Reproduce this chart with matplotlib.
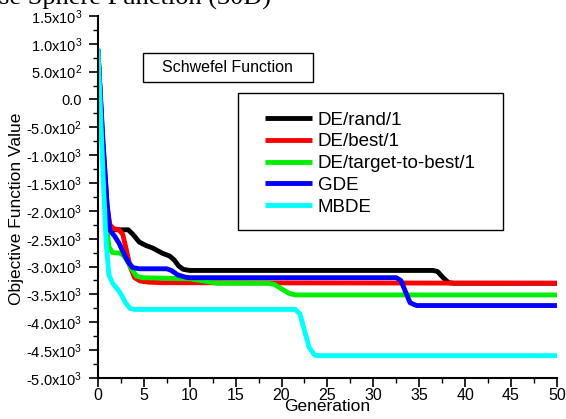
import matplotlib
matplotlib.use("Agg")
import matplotlib.pyplot as plt
from matplotlib.patches import Rectangle
from matplotlib.ticker import MultipleLocator

plt.rcParams['font.family'] = ['Liberation Sans', 'DejaVu Sans']
plt.rcParams['mathtext.fontset'] = 'custom'
plt.rcParams['mathtext.rm'] = 'Liberation Sans'
plt.rcParams['mathtext.it'] = 'Liberation Sans'

# ---------------- data ----------------
names = ["DE/rand/1", "DE/best/1", "DE/target-to-best/1", "GDE", "MBDE"]
colors = ["#000000", "#ff0000", "#00ee00", "#0000ff", "#00ffff"]

gen_rand = [0, 0.5, 1, 1.3, 1.6, 3.3, 3.8, 4.5, 5.2, 6, 7, 7.8, 8.3, 8.8, 9.3, 10, 36.5, 37, 37.6, 38.2, 38.8, 50]
val_rand = [900, -800, -2000, -2300, -2340, -2340, -2420, -2560, -2620, -2670, -2760, -2810, -2880, -2990, -3050, -3070, -3070, -3090, -3200, -3290, -3300, -3300]

gen_best = [0, 0.5, 1, 1.3, 1.7, 2.3, 2.7, 3.1, 3.5, 4, 4.6, 5.5, 7, 50]
val_best = [900, -700, -1900, -2250, -2320, -2340, -2420, -2700, -3000, -3200, -3260, -3280, -3290, -3300]

gen_ttb = [0, 0.5, 0.9, 1.2, 1.6, 2.4, 2.8, 3.2, 3.7, 4.2, 4.8, 10, 11.5, 13, 18.5, 19.2, 20, 20.8, 21.5, 50]
val_ttb = [900, -900, -2200, -2650, -2750, -2760, -2800, -2900, -3050, -3170, -3200, -3220, -3260, -3300, -3300, -3320, -3400, -3480, -3510, -3510]

gen_gde = [0, 0.5, 1, 1.3, 1.8, 2.3, 2.8, 3.3, 3.8, 4.5, 7.5, 8, 8.7, 9.5, 10, 32.5, 33, 33.5, 34, 34.7, 50]
val_gde = [900, -600, -1900, -2350, -2450, -2580, -2760, -2920, -3020, -3040, -3040, -3070, -3150, -3190, -3200, -3200, -3250, -3450, -3650, -3700, -3700]

gen_mbde = [0, 0.3, 0.6, 0.9, 1.2, 1.6, 2.2, 2.6, 3, 3.5, 4, 21.5, 22, 22.5, 23, 23.6, 24, 50]
val_mbde = [920, -300, -1500, -2600, -3150, -3300, -3420, -3520, -3650, -3750, -3770, -3770, -3850, -4150, -4450, -4590, -4600, -4600]

series_x = [gen_rand, gen_best, gen_ttb, gen_gde, gen_mbde]
series_y = [val_rand, val_best, val_ttb, val_gde, val_mbde]

x_ticks = [0, 5, 10, 15, 20, 25, 30, 35, 40, 45, 50]
y_ticks = [1500, 1000, 500, 0, -500, -1000, -1500, -2000, -2500, -3000, -3500, -4000, -4500, -5000]
y_tick_labels = ["1.5x10$^3$", "1.0x10$^3$", "5.0x10$^2$", "0.0", "-5.0x10$^2$", "-1.0x10$^3$",
                 "-1.5x10$^3$", "-2.0x10$^3$", "-2.5x10$^3$", "-3.0x10$^3$", "-3.5x10$^3$",
                 "-4.0x10$^3$", "-4.5x10$^3$", "-5.0x10$^3$"]

box_title = "Schwefel Function"
top_title = "se Sphere Function (30D)"
x_label = "Generation"
y_label = "Objective Function Value"

# ---------------- figure ----------------
fig = plt.figure(figsize=(5.66, 4.19), dpi=100)
ax = fig.add_axes([0.173, 0.098, 0.811, 0.864])

for xs, ys, c, n in zip(series_x, series_y, colors, names):
    ax.plot(xs, ys, color=c, lw=3.5, label=n, solid_joinstyle='round', solid_capstyle='butt')

ax.set_xlim(0, 50)
ax.set_ylim(-5000, 1500)
ax.set_xticks(x_ticks)
ax.set_xticklabels([str(t) for t in x_ticks], fontsize=11.5)
ax.set_yticks(y_ticks)
ax.set_yticklabels(y_tick_labels, fontsize=10.5)
ax.xaxis.set_minor_locator(MultipleLocator(2.5))
ax.yaxis.set_minor_locator(MultipleLocator(250))
ax.tick_params(which='major', direction='out', length=6.5, width=1.2)
ax.tick_params(which='minor', direction='out', length=3.5, width=1.0)
ax.tick_params(axis='x', which='major', pad=1)
ax.tick_params(axis='y', which='major', pad=5)

for s in ['top', 'right']:
    ax.spines[s].set_visible(False)
for s in ['left', 'bottom']:
    ax.spines[s].set_linewidth(1.5)

ax.set_xlabel(x_label, fontsize=12.5, labelpad=-3)
ax.set_ylabel(y_label, fontsize=12.5)
ax.yaxis.set_label_coords(-0.161, 0.468)

# text box
ax.add_patch(Rectangle((0.098, 0.818), 0.370, 0.080, transform=ax.transAxes,
                       fill=False, edgecolor='black', lw=1.0, zorder=5))
ax.text(0.283, 0.858, box_title, transform=ax.transAxes, ha='center', va='center',
        fontsize=11.5, zorder=6)

# legend with its own frame
ax.add_patch(Rectangle((0.305, 0.409), 0.577, 0.378, transform=ax.transAxes,
                       facecolor='white', edgecolor='black', lw=1.0, zorder=5))
leg = ax.legend(loc='upper left', bbox_to_anchor=(0.364, 0.736), fontsize=13.5,
                frameon=False, handlelength=2.5, handletextpad=0.3, labelspacing=0.25,
                borderpad=0, borderaxespad=0)
leg.set_zorder(6)
for line in leg.get_lines():
    line.set_linewidth(3.5)

fig.text(-0.002, 0.988, top_title, ha='left', va='baseline', fontsize=19,
         family=['Liberation Serif', 'DejaVu Serif'])

fig.savefig("out.png", dpi=100)
